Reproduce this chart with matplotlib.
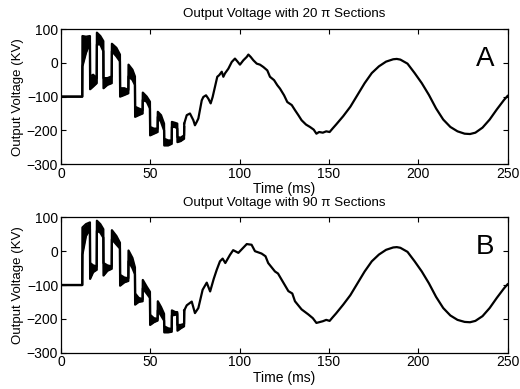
import matplotlib
matplotlib.use("Agg")
import matplotlib.pyplot as plt

plt.rcParams["font.family"] = ["Liberation Sans", "DejaVu Sans"]

# --- Panel A (20 pi sections): switching band, then single trace
BAND_T_A = [0, 11.9, 12.0, 14.0, 16.2, 16.3, 18.0, 20.0, 20.1, 22.0, 23.7,
            23.8, 26.0, 28.4, 28.5, 31.0, 33.0, 33.1, 35.5, 37.7, 37.8, 40.0,
            41.4, 41.5, 43.5, 45.7, 45.8, 48.0, 49.8, 49.9, 52.0, 54.1, 54.2,
            56.0, 57.7, 57.8, 60.0, 62.0, 62.1, 64.0, 65.1, 65.2, 67.0, 68.9, 69.0]
LO_A = [-100, -100, -10, 30, 60, -78, -70, -60, 55, 55, 35, -75, -65, -60,
        35, 20, 5, -100, -95, -90, -40, -50, -65, -160, -155, -150, -110,
        -115, -135, -215, -210, -205, -160, -175, -200, -245, -245, -240,
        -190, -190, -195, -235, -232, -225, -190]
HI_A = [-100, -100, 80, 78, 80, -40, -35, -45, 90, 80, 65, -45, -45, -40,
        57, 45, 25, -75, -75, -80, -5, -20, -40, -130, -135, -140, -88,
        -100, -115, -190, -195, -195, -145, -155, -180, -225, -230, -230,
        -175, -178, -180, -220, -222, -215, -180]
LINE_T_A = [69, 70.4, 72.2, 74.1, 75.0, 76.0, 76.9, 78.8, 79.7, 81.2, 82.5,
            83.8, 84.9, 86.2, 87.5, 88.6, 90.0, 90.9, 91.8, 93.7, 95.6, 97.4,
            98.7, 100.2, 102.1, 104.0, 104.9, 106.2, 107.7, 109.6, 111.4,
            113.3, 115.5, 117.0, 119.3, 121.1, 122.6, 124.9, 126.7, 129.2,
            131.0, 132.9, 134.7, 137.2, 139.4, 141.5, 143.0, 144.5, 146.6,
            148.5, 150.4, 152.0, 154, 158, 162, 166, 170, 174, 178, 182, 186,
            188, 190, 194, 198, 202, 206, 210, 214, 218, 222, 226, 229, 232,
            236, 240, 244, 248, 250]
LINE_V_A = [-180, -155, -150, -170, -185, -175, -165, -111, -101, -96, -106,
            -120, -101, -71, -41, -36, -26, -41, -31, -17, 3, 13, 5, -5, 8,
            18, 25, 18, 8, -2, -5, -12, -22, -41, -51, -66, -76, -96, -116,
            -125, -140, -155, -170, -183, -190, -198, -210, -205, -207, -203,
            -205, -195, -183, -158, -130, -95, -60, -30, -10, 4, 11, 12, 10,
            -2, -30, -60, -95, -135, -168, -190, -203, -210, -211, -207, -192,
            -168, -138, -110, -98]

# --- Panel B (90 pi sections)
BAND_T_B = BAND_T_A
LO_B = [-100, -100, -10, 45, 65, -82, -62, -55, 60, 55, 40, -72, -58, -52,
        35, 20, 8, -102, -92, -88, -30, -50, -68, -158, -150, -148, -110,
        -125, -138, -218, -210, -205, -175, -190, -205, -240, -240, -238,
        -190, -188, -185, -235, -228, -222, -178]
HI_B = [-100, -100, 70, 80, 85, -35, -42, -45, 90, 80, 65, -35, -42, -45,
        62, 45, 25, -70, -78, -80, 2, -20, -48, -125, -138, -142, -85, -105,
        -120, -188, -198, -200, -148, -165, -185, -222, -228, -230, -175,
        -180, -180, -218, -218, -215, -175]
LINE_T_B = [69, 70.4, 73.2, 75, 76.9, 79.3, 81.6, 83.5, 85.5, 87.2, 89, 90.5,
            92, 94.6, 96.4, 99.3, 102, 104, 106.7, 108.6, 112.3, 114.5, 116,
            119.8, 121.5, 123.5, 127.3, 129.5, 131, 134.7, 138.5, 141, 143,
            146.6, 148.5, 150.4, 152, 154, 158, 162, 166, 170, 174, 178, 182,
            186, 188, 190, 194, 198, 202, 206, 210, 214, 218, 222, 226, 229,
            232, 236, 240, 244, 248, 250]
LINE_V_B = [-175, -160, -149, -183, -168, -114, -93, -119, -82, -55, -30, -22,
            -35, -11, 3, -5, 10, 21, 19, 0, -7, -15, -35, -60, -66, -84, -118,
            -125, -148, -172, -187, -198, -212, -207, -203, -206, -196, -184,
            -158, -130, -95, -60, -30, -10, 4, 11, 12, 10, -2, -30, -60, -95,
            -135, -168, -190, -203, -209, -210, -206, -192, -168, -138, -110,
            -98]

X_TICKS = [0, 50, 100, 150, 200, 250]
Y_TICKS = [-300, -200, -100, 0, 100]


def draw_panel(ax, band_t, lo, hi, line_t, line_v, title, letter):
    ax.fill_between(band_t, lo, hi, color="black", linewidth=0)
    ax.plot(band_t, lo, color="black", lw=1.6, solid_joinstyle="round")
    ax.plot(band_t, hi, color="black", lw=1.6, solid_joinstyle="round")
    ax.plot(line_t, line_v, color="black", lw=1.6, solid_joinstyle="round")

    ax.set_xlim(0, 250)
    ax.set_ylim(-300, 100)
    ax.set_xticks(X_TICKS)
    ax.set_yticks(Y_TICKS)
    ax.tick_params(direction="in", top=True, right=True, length=3.5,
                   width=0.8, labelsize=10, pad=2)
    for spine in ax.spines.values():
        spine.set_linewidth(0.9)

    ax.set_title(title, fontsize=9.6, pad=8.5)
    ax.set_xlabel("Time (ms)", fontsize=10, labelpad=1)
    ax.set_ylabel("Output Voltage (KV)", fontsize=9.5, labelpad=2)
    ax.text(0.95, 0.78, letter, transform=ax.transAxes, fontsize=20,
            ha="center", va="center")


fig = plt.figure(figsize=(5.2, 3.89), dpi=100)
ax_a = fig.add_axes([0.1173, 0.5784, 0.8587, 0.3463])
ax_b = fig.add_axes([0.1173, 0.0933, 0.8587, 0.3480])

draw_panel(ax_a, BAND_T_A, LO_A, HI_A, LINE_T_A, LINE_V_A,
           "Output Voltage with 20 π Sections", "A")
draw_panel(ax_b, BAND_T_B, LO_B, HI_B, LINE_T_B, LINE_V_B,
           "Output Voltage with 90 π Sections", "B")

fig.savefig("out.png", dpi=100, facecolor="white")
